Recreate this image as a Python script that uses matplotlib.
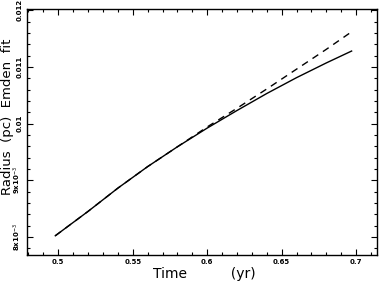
import numpy as np
import matplotlib
matplotlib.use("Agg")
import matplotlib.pyplot as plt
from matplotlib.ticker import MultipleLocator, FixedLocator

# values
time = [0.498, 0.52, 0.54, 0.56, 0.58, 0.60, 0.62, 0.64, 0.66, 0.68, 0.697]
radius = [0.00802, 0.00845, 0.00886, 0.00924, 0.00959, 0.00992,
          0.01023, 0.01053, 0.01081, 0.01107, 0.01128]
emden = [0.00802, 0.00845, 0.00886, 0.00924, 0.00959, 0.00994,
         0.01027, 0.01061, 0.01096, 0.01131, 0.01162]

yticks = [0.008, 0.009, 0.010, 0.011, 0.012]
ylabels = ["8x10$^{-3}$", "9x10$^{-3}$", "0.01", "0.011", "0.012"]
xticks = [0.5, 0.55, 0.6, 0.65, 0.7]
xlabels = ["0.5", "0.55", "0.6", "0.65", "0.7"]

fig = plt.figure(figsize=(3.82, 2.82), dpi=100)
ax = fig.add_axes([0.0707, 0.0957, 0.916, 0.872])

ax.plot(time, radius, color="black", linewidth=1.0)
ax.plot(time, emden, color="black", linewidth=1.0, linestyle=(0, (5, 4)))

ax.set_xlim(0.479, 0.714)
ax.set_ylim(0.00768, 0.01202)

ax.xaxis.set_major_locator(FixedLocator(xticks))
ax.set_xticklabels(xlabels, fontsize=5, fontweight="bold")
ax.xaxis.set_minor_locator(MultipleLocator(0.01))
ax.yaxis.set_major_locator(FixedLocator(yticks))
ax.set_yticklabels(ylabels, fontsize=5, fontweight="bold", rotation=90, va="center")
ax.yaxis.set_minor_locator(MultipleLocator(0.0002))

ax.tick_params(which="both", direction="in", top=True, right=True, width=0.8)
ax.tick_params(which="major", length=4, pad=3)
ax.tick_params(which="minor", length=2)
for s in ax.spines.values():
    s.set_linewidth(1.0)

ax.set_xlabel("Time          (yr)", fontsize=10)
ax.xaxis.set_label_coords(0.508, -0.05)
ax.set_ylabel("Radius  (pc)  Emden  fit", fontsize=9.5)
ax.yaxis.set_label_coords(-0.036, 0.56)

fig.savefig("out.png", dpi=100)
